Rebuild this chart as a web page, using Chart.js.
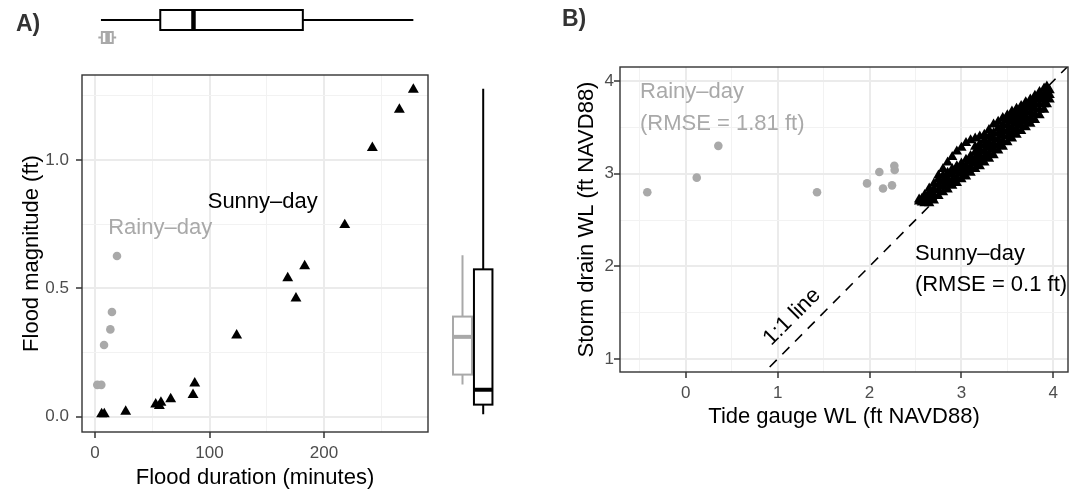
<!DOCTYPE html>
<html>
<head>
<meta charset="utf-8">
<script src="https://cdn.jsdelivr.net/npm/chart.js@4.4.0/dist/chart.umd.min.js"></script>
<style>
html,body{margin:0;padding:0;background:#fff;width:1087px;height:491px;overflow:hidden;font-family:"Liberation Sans",Arial,Helvetica,sans-serif}
#cA{position:absolute;left:0;top:0}
#cB{position:absolute;left:550px;top:0}
.lab{position:absolute;font-weight:bold;font-size:23px;line-height:23px;color:#333}
</style>
</head>
<body>
<canvas id="cA" width="550" height="491"></canvas>
<canvas id="cB" width="537" height="491"></canvas>
<div class="lab" style="left:16px;top:12px">A)</div>
<div class="lab" style="left:562px;top:7px">B)</div>
<script>
const F = '"Liberation Sans", Arial, Helvetica, sans-serif';

// ---------- Panel A data ----------
const durSunny = [5.8, 8.1, 26.8, 53.0, 56.2, 57.6, 66.1, 85.6, 87.1, 123.7, 168.3, 175.5, 183.1, 218.1, 242.2, 265.8, 278.0];
const magSunny = [0.01, 0.01, 0.02, 0.048, 0.042, 0.055, 0.069, 0.085, 0.13, 0.317, 0.54, 0.461, 0.587, 0.747, 1.047, 1.196, 1.274];
const durRainy = [2.0, 5.5, 7.9, 13.4, 14.8, 19.2];
const magRainy = [0.124, 0.124, 0.279, 0.34, 0.408, 0.626];

// box stats: [min, q1, median, q3, max]
const boxDurSunny = [5.2, 57, 86, 181.5, 278];
const boxDurRainy = [2.9, 6, 11, 15.5, 18.5];
const boxMagSunny = [0.01, 0.047, 0.105, 0.574, 1.277];
const boxMagRainy = [0.125, 0.164, 0.311, 0.39, 0.629];

const xMajorA = [0, 100, 200], xMinorA = [50, 150, 250];
const yMajorA = [0, 0.5, 1.0], yMinorA = [0.25, 0.75, 1.25];

// ---------- Panel B data ----------
const tideRainy  = [-0.418, 0.12, 0.355, 1.429, 1.973, 2.107, 2.147, 2.245, 2.27, 2.274];
const drainRainy = [2.80, 2.957, 3.30, 2.80, 2.895, 3.018, 2.84, 2.874, 3.086, 3.04];

const tideSunny = [
 2.54, 2.54,
 2.57, 2.57,
 2.60, 2.60, 2.60,
 2.65, 2.65, 2.65, 2.65,
 2.70, 2.70, 2.70, 2.70,
 2.75, 2.75, 2.75, 2.75, 2.75,
 2.80, 2.80, 2.80, 2.80, 2.80,
 2.85, 2.85, 2.85, 2.85, 2.85,
 2.90, 2.90, 2.90, 2.90, 2.90,
 2.95, 2.95, 2.95, 2.95, 2.95,
 3.00, 3.00, 3.00, 3.00, 3.00,
 3.05, 3.05, 3.05, 3.05, 3.05,
 3.10, 3.10, 3.10, 3.10, 3.10,
 3.15, 3.15, 3.15, 3.15, 3.15, 3.15,
 3.20, 3.20, 3.20, 3.20, 3.20, 3.20,
 3.25, 3.25, 3.25, 3.25, 3.25, 3.25,
 3.30, 3.30, 3.30, 3.30, 3.30, 3.30,
 3.35, 3.35, 3.35, 3.35, 3.35, 3.35,
 3.40, 3.40, 3.40, 3.40, 3.40, 3.40,
 3.45, 3.45, 3.45, 3.45, 3.45, 3.45,
 3.50, 3.50, 3.50, 3.50, 3.50, 3.50,
 3.55, 3.55, 3.55, 3.55, 3.55, 3.55,
 3.60, 3.60, 3.60, 3.60, 3.60, 3.60,
 3.65, 3.65, 3.65, 3.65, 3.65, 3.65,
 3.70, 3.70, 3.70, 3.70, 3.70, 3.70,
 3.75, 3.75, 3.75, 3.75, 3.75, 3.75,
 3.80, 3.80, 3.80, 3.80, 3.80, 3.80,
 3.85, 3.85, 3.85, 3.85, 3.85, 3.85,
 3.90, 3.90, 3.90, 3.90, 3.90,
 3.93, 3.93, 3.93, 3.93,
 3.96, 3.96, 3.96
];
const drainSunny = [
 2.70, 2.72,
 2.69, 2.73,
 2.68, 2.73, 2.77,
 2.68, 2.74, 2.80, 2.84,
 2.71, 2.77, 2.83, 2.89,
 2.76, 2.82, 2.88, 2.94, 2.98,
 2.80, 2.86, 2.92, 2.98, 3.05,
 2.83, 2.89, 2.95, 3.01, 3.12,
 2.87, 2.93, 2.99, 3.05, 3.18,
 2.90, 2.96, 3.02, 3.08, 3.24,
 2.94, 3.00, 3.06, 3.11, 3.28,
 2.97, 3.03, 3.09, 3.15, 3.33,
 3.01, 3.07, 3.13, 3.19, 3.36,
 3.05, 3.11, 3.17, 3.23, 3.29, 3.38,
 3.08, 3.14, 3.20, 3.26, 3.32, 3.40,
 3.12, 3.18, 3.24, 3.30, 3.36, 3.42,
 3.16, 3.22, 3.28, 3.34, 3.40, 3.47,
 3.20, 3.26, 3.32, 3.38, 3.44, 3.53,
 3.25, 3.31, 3.37, 3.43, 3.49, 3.56,
 3.29, 3.35, 3.41, 3.47, 3.53, 3.60,
 3.34, 3.40, 3.46, 3.52, 3.58, 3.63,
 3.38, 3.44, 3.50, 3.56, 3.62, 3.67,
 3.42, 3.48, 3.54, 3.60, 3.65, 3.70,
 3.46, 3.52, 3.58, 3.63, 3.68, 3.73,
 3.50, 3.56, 3.62, 3.67, 3.72, 3.77,
 3.54, 3.60, 3.66, 3.71, 3.76, 3.80,
 3.58, 3.64, 3.70, 3.75, 3.80, 3.84,
 3.63, 3.69, 3.75, 3.80, 3.84, 3.88,
 3.69, 3.75, 3.81, 3.86, 3.92,
 3.75, 3.81, 3.87, 3.94,
 3.80, 3.85, 3.90
];
const oneToOne = [0.5, 4.5];

const xMajorB = [0, 1, 2, 3, 4], xMinorB = [-0.5, 0.5, 1.5, 2.5, 3.5];
const yMajorB = [1, 2, 3, 4], yMinorB = [1.5, 2.5, 3.5];

// ---------- helpers ----------
function scaleCfg(o) {
  const all = o.major.concat(o.minor).sort((a, b) => a - b);
  const isMaj = v => o.major.indexOf(v) >= 0;
  return {
    type: 'linear', position: o.position, min: o.min, max: o.max,
    afterBuildTicks: s => { s.ticks = all.map(v => ({ value: v })); },
    afterFit: s => { if (o.position === 'bottom') s.height = o.size; else s.width = o.size; },
    ticks: {
      autoSkip: false, maxRotation: 0, minRotation: 0, padding: o.tickPad,
      color: '#4D4D4D', font: { family: F, size: 17 },
      callback: v => isMaj(v) ? o.fmt(v) : ''
    },
    grid: {
      drawTicks: true, tickLength: 6, tickWidth: 1.5,
      color: c => (c.tick && isMaj(c.tick.value)) ? '#EBEBEB' : '#F2F2F2',
      lineWidth: c => (c.tick && isMaj(c.tick.value)) ? 2 : 1,
      tickColor: c => (c.tick && isMaj(c.tick.value)) ? '#333333' : 'rgba(0,0,0,0)'
    },
    border: { display: false },
    title: { display: true, text: o.title, color: '#000', font: { family: F, size: 22 }, padding: o.titlePad }
  };
}

const panelBorder = {
  id: 'panelBorder',
  afterDatasetsDraw(chart) {
    const { ctx, chartArea: a } = chart;
    ctx.save();
    ctx.strokeStyle = '#333333'; ctx.lineWidth = 1.4;
    ctx.strokeRect(a.left, a.top, a.right - a.left, a.bottom - a.top);
    ctx.restore();
  }
};

function hBox(ctx, s, st, yc, h, col) {
  const p = st.map(v => s.getPixelForValue(v));
  ctx.save();
  ctx.strokeStyle = col; ctx.lineWidth = 2;
  ctx.beginPath();
  ctx.moveTo(p[0], yc); ctx.lineTo(p[1], yc);
  ctx.moveTo(p[3], yc); ctx.lineTo(p[4], yc);
  ctx.stroke();
  ctx.fillStyle = '#fff';
  ctx.fillRect(p[1], yc - h / 2, p[3] - p[1], h);
  ctx.strokeRect(p[1], yc - h / 2, p[3] - p[1], h);
  ctx.lineWidth = 4.5;
  ctx.beginPath(); ctx.moveTo(p[2], yc - h / 2); ctx.lineTo(p[2], yc + h / 2); ctx.stroke();
  ctx.restore();
}
function vBox(ctx, s, st, xc, w, col) {
  const p = st.map(v => s.getPixelForValue(v));
  ctx.save();
  ctx.strokeStyle = col; ctx.lineWidth = 2;
  ctx.beginPath();
  ctx.moveTo(xc, p[0]); ctx.lineTo(xc, p[1]);
  ctx.moveTo(xc, p[3]); ctx.lineTo(xc, p[4]);
  ctx.stroke();
  ctx.fillStyle = '#fff';
  ctx.fillRect(xc - w / 2, p[3], w, p[1] - p[3]);
  ctx.strokeRect(xc - w / 2, p[3], w, p[1] - p[3]);
  ctx.lineWidth = 4;
  ctx.beginPath(); ctx.moveTo(xc - w / 2, p[2]); ctx.lineTo(xc + w / 2, p[2]); ctx.stroke();
  ctx.restore();
}

const boxplotsA = {
  id: 'boxA',
  afterDraw(chart) {
    const ctx = chart.ctx, xs = chart.scales.x, ys = chart.scales.y;
    hBox(ctx, xs, boxDurSunny, 20, 20, '#000');
    hBox(ctx, xs, boxDurRainy, 37.5, 11, '#A9A9A9');
    vBox(ctx, ys, boxMagRainy, 462.5, 19, '#A9A9A9');
    vBox(ctx, ys, boxMagSunny, 483.2, 18.5, '#000');
  }
};

function txt(chart, s, x, y, col, align, rot) {
  const ctx = chart.ctx;
  const px = chart.scales.x.getPixelForValue(x), py = chart.scales.y.getPixelForValue(y);
  ctx.save();
  ctx.font = '22px ' + F; ctx.fillStyle = col; ctx.textBaseline = 'middle'; ctx.textAlign = align;
  ctx.translate(px, py); if (rot) ctx.rotate(rot);
  ctx.fillText(s, 0, 0);
  ctx.restore();
}

const annotA = {
  id: 'annotA',
  afterDraw(chart) {
    txt(chart, 'Rainy\u2013day', 56.9, 0.734, '#A9A9A9', 'center');
    txt(chart, 'Sunny\u2013day', 146.5, 0.838, '#000', 'center');
  }
};
const annotB = {
  id: 'annotB',
  afterDraw(chart) {
    txt(chart, 'Rainy\u2013day', -0.497, 3.881, '#A9A9A9', 'left');
    txt(chart, '(RMSE = 1.81 ft)', -0.497, 3.538, '#A9A9A9', 'left');
    txt(chart, 'Sunny\u2013day', 2.494, 2.137, '#000', 'left');
    txt(chart, '(RMSE = 0.1 ft)', 2.494, 1.795, '#000', 'left');
    txt(chart, '1:1 line', 1.157, 1.454, '#000', 'center', -Math.PI / 4);
  }
};

// ---------- Panel A chart ----------
new Chart(document.getElementById('cA'), {
  type: 'scatter',
  data: {
    datasets: [
      { data: durSunny.map((d, i) => ({ x: d, y: magSunny[i] })), pointStyle: 'triangle', pointRadius: 6.3, backgroundColor: '#000', borderWidth: 0 },
      { data: durRainy.map((d, i) => ({ x: d, y: magRainy[i] })), pointStyle: 'circle', pointRadius: 4.3, backgroundColor: '#A9A9A9', borderWidth: 0 }
    ]
  },
  options: {
    responsive: false, animation: false, events: [],
    layout: { padding: { left: 0, top: 75, right: 122, bottom: 0 } },
    plugins: { legend: { display: false }, tooltip: { enabled: false } },
    scales: {
      x: scaleCfg({ position: 'bottom', min: -11.35, max: 290.8, major: xMajorA, minor: xMinorA, fmt: v => String(v),
        size: 59, tickPad: 5, title: 'Flood duration (minutes)', titlePad: { top: 0, bottom: 0 } }),
      y: scaleCfg({ position: 'left', min: -0.0596, max: 1.331, major: yMajorA, minor: yMinorA, fmt: v => v.toFixed(1),
        size: 82, tickPad: 7, title: 'Flood magnitude (ft)', titlePad: { top: 18.5, bottom: 0 } })
    }
  },
  plugins: [panelBorder, boxplotsA, annotA]
});

// ---------- Panel B chart ----------
new Chart(document.getElementById('cB'), {
  type: 'scatter',
  data: {
    datasets: [
      { data: tideSunny.map((d, i) => ({ x: d, y: drainSunny[i] })), pointStyle: 'triangle', pointRadius: 6, backgroundColor: '#000', borderWidth: 0 },
      { data: tideRainy.map((d, i) => ({ x: d, y: drainRainy[i] })), pointStyle: 'circle', pointRadius: 4.3, backgroundColor: '#A9A9A9', borderWidth: 0 },
      { data: oneToOne.map(v => ({ x: v, y: v })), showLine: true, pointRadius: 0, borderColor: '#000', borderWidth: 1.6, borderDash: [10, 8] }
    ]
  },
  options: {
    responsive: false, animation: false, events: [],
    layout: { padding: { left: 0, top: 67, right: 19, bottom: 0 } },
    plugins: { legend: { display: false }, tooltip: { enabled: false } },
    scales: {
      x: scaleCfg({ position: 'bottom', min: -0.715, max: 4.160, major: xMajorB, minor: xMinorB, fmt: v => String(v),
        size: 119, tickPad: 5, title: 'Tide gauge WL (ft NAVD88)', titlePad: { top: 0, bottom: 61 } }),
      y: scaleCfg({ position: 'left', min: 0.860, max: 4.151, major: yMajorB, minor: yMinorB, fmt: v => String(v),
        size: 70, tickPad: 0, title: 'Storm drain WL (ft NAVD88)', titlePad: { top: 24, bottom: 0 } })
    }
  },
  plugins: [panelBorder, annotB]
});
</script>
</body>
</html>
